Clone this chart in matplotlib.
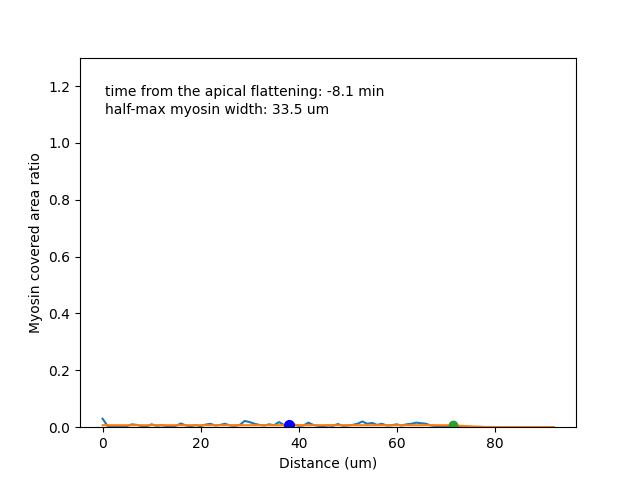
import numpy as np
import matplotlib
matplotlib.use('Agg')
import matplotlib.pyplot as plt

# distance along the tissue (um)
distance = np.arange(0, 93, 1.0)

# raw myosin covered area ratio
ratio = [0.030, 0.005, 0.003, 0.002, 0.003, 0.004, 0.010, 0.008, 0.004, 0.003,
         0.010, 0.005, 0.007, 0.004, 0.003, 0.005, 0.013, 0.006, 0.004, 0.007,
         0.004, 0.009, 0.012, 0.006, 0.008, 0.012, 0.006, 0.005, 0.008, 0.022,
         0.018, 0.012, 0.008, 0.006, 0.010, 0.007, 0.018, 0.008, 0.004, 0.010,
         0.005, 0.006, 0.016, 0.008, 0.005, 0.004, 0.006, 0.005, 0.011, 0.005,
         0.006, 0.008, 0.012, 0.020, 0.012, 0.015, 0.008, 0.012, 0.006, 0.007,
         0.010, 0.006, 0.010, 0.012, 0.016, 0.014, 0.012, 0.006, 0.004, 0.003,
         0.003, 0.002, 0.001, 0.001, 0.001, 0.001, 0.001, 0.001, 0.0005, 0.0005,
         0.0005, 0.0005, 0.0005, 0.0005, 0.0005, 0.0005, 0.0005, 0.0005, 0.0005, 0.0005,
         0.0005, 0.0005, 0.0005]

# smoothed ratio
smooth = [0.007] * 71 + [0.0068, 0.006, 0.005, 0.004, 0.003, 0.002, 0.0015, 0.001, 0.0008] + [0.0006] * 13

# half-max points
left_x, left_y = 38.0, 0.006
right_x, right_y = 71.5, 0.007

time_min = -8.1
width_um = 33.5

fig, ax = plt.subplots(figsize=(6.4, 4.8), dpi=100)
ax.plot(distance, ratio)
ax.plot(distance, smooth)
ax.plot(left_x, left_y, 'bo', markersize=7)
ax.plot(right_x, right_y, 'o', color='C2', markersize=6)

ax.set_ylim(0, 1.3)
ax.set_xlabel('Distance (um)')
ax.set_ylabel('Myosin covered area ratio')
ax.text(0.05, 0.907, f'time from the apical flattening: {time_min} min',
        transform=ax.transAxes, va='center')
ax.text(0.05, 0.858, f'half-max myosin width: {width_um} um',
        transform=ax.transAxes, va='center')

plt.savefig('out.png')
